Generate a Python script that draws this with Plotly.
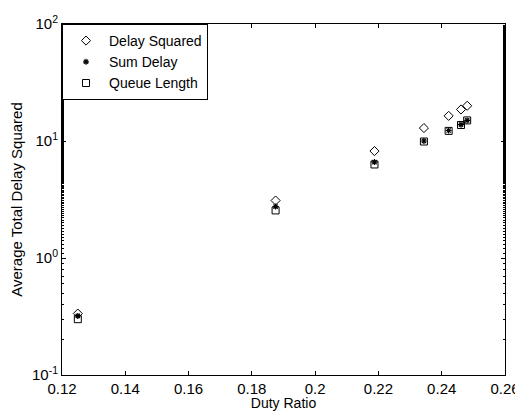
import plotly.graph_objects as go

duty_ratio = [0.125, 0.1875, 0.21875, 0.234375, 0.2421875, 0.24609375, 0.248046875]
delay_squared = [0.335, 3.1, 8.2, 12.9, 16.4, 18.6, 20.0]
sum_delay = [0.32, 2.75, 6.6, 10.0, 12.3, 13.8, 15.0]
queue_length = [0.30, 2.55, 6.3, 9.9, 12.2, 13.7, 15.0]

x_tickvals = [0.12, 0.14, 0.16, 0.18, 0.2, 0.22, 0.24, 0.26]
x_ticktext = ["0.12", "0.14", "0.16", "0.18", "0.2", "0.22", "0.24", "0.26"]
y_tickvals = [0.1, 1, 10, 100]
y_ticktext = ["10<sup>-1</sup>", "10<sup>0</sup>", "10<sup>1</sup>", "10<sup>2</sup>"]

font = dict(family="Liberation Sans, Arial", size=15, color="black")
title_font = dict(family="Liberation Sans, Arial", size=14, color="black")

fig = go.Figure()
fig.add_trace(go.Scatter(x=duty_ratio, y=delay_squared, mode="markers", name="Delay Squared",
                         marker=dict(symbol="diamond-open", size=7, color="black", line=dict(width=1))))
fig.add_trace(go.Scatter(x=duty_ratio, y=sum_delay, mode="markers", name="Sum Delay",
                         marker=dict(symbol="asterisk-open", size=5, color="black", line=dict(width=1.2))))
fig.add_trace(go.Scatter(x=duty_ratio, y=queue_length, mode="markers", name="Queue Length",
                         marker=dict(symbol="square-open", size=7, color="black", line=dict(width=1))))

axis_common = dict(showline=True, linecolor="black", linewidth=1, mirror="allticks",
                   ticks="inside", ticklen=4, tickcolor="black", showgrid=False, zeroline=False,
                   tickfont=font, automargin=False)

# page body has an 8px default margin, so the figure is sized to fill the remaining window
fig.update_layout(
    width=515, height=403,
    margin=dict(l=54, r=18, t=16, b=36),
    paper_bgcolor="white", plot_bgcolor="white",
    font=font,
    showlegend=True,
    legend=dict(x=0, y=1, xanchor="left", yanchor="top", bgcolor="white",
                bordercolor="black", borderwidth=1, font=dict(size=14, family="Liberation Sans, Arial"),
                tracegroupgap=0, itemwidth=36),
    xaxis=dict(range=[0.12, 0.26], tickvals=x_tickvals, ticktext=x_ticktext,
               title=dict(text="Duty Ratio", standoff=2, font=title_font), **axis_common),
    yaxis=dict(type="log", range=[-1, 2], tickvals=y_tickvals, ticktext=y_ticktext,
               minor=dict(ticks="inside", ticklen=2, tickcolor="black", showgrid=False),
               title=dict(text="Average Total Delay Squared", standoff=6, font=font), **axis_common),
)

fig.write_html("out.html")
